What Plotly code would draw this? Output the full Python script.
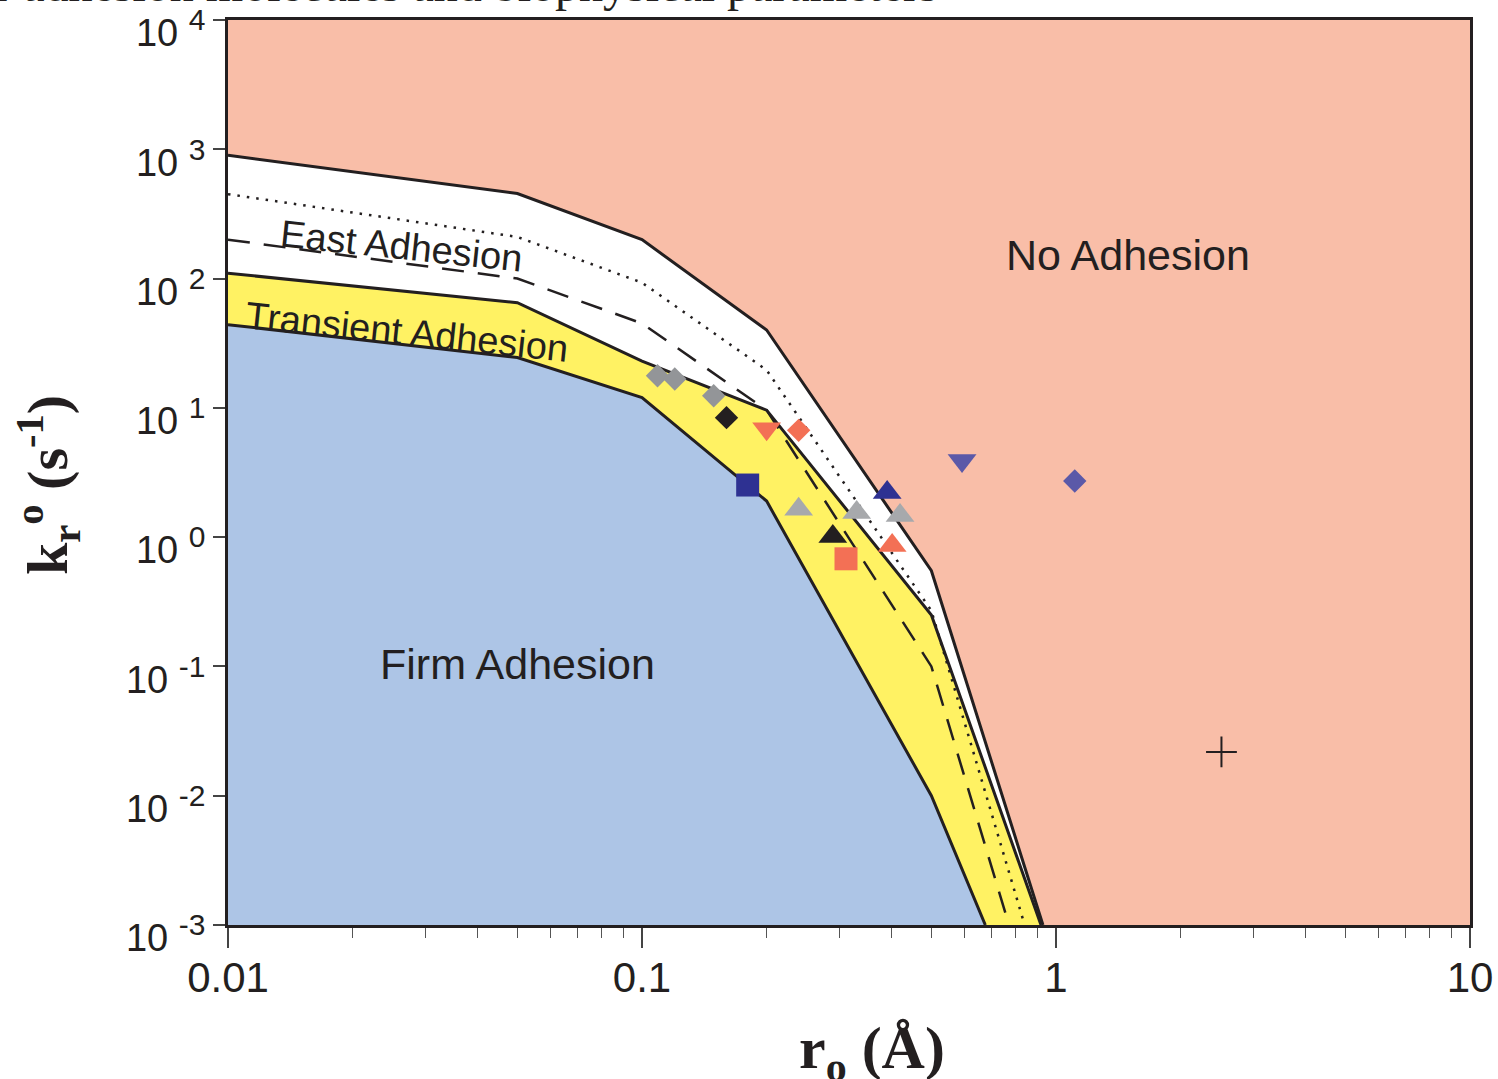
import plotly.graph_objects as go

# ---------------- data ----------------
r_break = [0.01, 0.05, 0.1, 0.2, 0.5]

no_adh_k = [900, 455, 200, 40, 0.55]
no_adh_r_end = 0.93
dotted_k = [450, 210, 93, 19.6, 0.27]
dotted_r_end = 0.84
dashed_k = [200, 100, 45, 9.6, 0.1]
dashed_r_end = 0.77
transient_k = [110, 65, 23, 9.6, 0.25]
transient_r_end = 0.92
firm_k = [44, 24.5, 12, 1.9, 0.01]
firm_r_end = 0.675

k_floor = 1e-3

gray_diamond_r = [0.109, 0.12, 0.149]
gray_diamond_k = [17.7, 16.7, 12.4]
black_diamond_r = [0.160]
black_diamond_k = [8.4]
orange_down_r = [0.2]
orange_down_k = [6.9]
orange_diamond_r = [0.239]
orange_diamond_k = [6.7]
navy_square_r = [0.180]
navy_square_k = [2.53]
gray_triangle_r = [0.239, 0.330, 0.42]
gray_triangle_k = [1.64, 1.55, 1.47]
black_triangle_r = [0.289]
black_triangle_k = [1.01]
orange_square_r = [0.311]
orange_square_k = [0.68]
navy_triangle_r = [0.391]
navy_triangle_k = [2.21]
orange_triangle_r = [0.402]
orange_triangle_k = [0.86]
slate_down_r = [0.593]
slate_down_k = [3.92]
slate_diamond_r = [1.11]
slate_diamond_k = [2.72]
cross_r = [2.51]
cross_k = [0.0218]

x_tickvals = [0.01, 0.1, 1, 10]
x_ticktext = ["0.01", "0.1", "1", "10"]
y_tickvals = [1e-3, 1e-2, 1e-1, 1, 10, 100, 1000, 10000]
y_exponents = ["-3", "-2", "-1", "0", "1", "2", "3", "4"]
x_minor = [m * d for d in (0.01, 0.1, 1) for m in range(2, 10)]

# ---------------- colours ----------------
SALMON = "#F9BEA8"
YELLOW = "#FFF263"
BLUE = "#ADC5E6"
INK = "#231F20"
GRAY_D = "#939598"
GRAY_T = "#A7A9AC"
ORANGE = "#F37055"
NAVY = "#2E3192"
SLATE = "#5B59A8"

fig = go.Figure()


def boundary(k_vals, r_end):
    return r_break + [r_end], k_vals + [k_floor]


def region(k_vals, r_end, color):
    xs, ys = boundary(k_vals, r_end)
    fig.add_trace(go.Scatter(x=xs + [r_break[0]], y=ys + [k_floor], mode="lines",
                             fill="toself", fillcolor=color, line=dict(width=0),
                             hoverinfo="skip", showlegend=False))


def line(k_vals, r_end, dash, width=3):
    xs, ys = boundary(k_vals, r_end)
    fig.add_trace(go.Scatter(x=xs, y=ys, mode="lines",
                             line=dict(color=INK, width=width, dash=dash),
                             hoverinfo="skip", showlegend=False))


region(no_adh_k, no_adh_r_end, "white")
region(transient_k, transient_r_end, YELLOW)
region(firm_k, firm_r_end, BLUE)

line(dotted_k, dotted_r_end, "2.5px,7px", 2.5)
line(dashed_k, dashed_r_end, "22px,14px", 2.5)
line(no_adh_k, no_adh_r_end, "solid")
line(transient_k, transient_r_end, "solid")
line(firm_k, firm_r_end, "solid")


def pts(xs, ys, symbol, color, size):
    fig.add_trace(go.Scatter(x=xs, y=ys, mode="markers",
                             marker=dict(symbol=symbol, color=color, size=size,
                                         line=dict(width=0)),
                             showlegend=False))


pts(gray_diamond_r, gray_diamond_k, "diamond", GRAY_D, 18)
pts(black_diamond_r, black_diamond_k, "diamond", INK, 18)
pts(orange_down_r, orange_down_k, "triangle-down", ORANGE, 25)
pts(orange_diamond_r, orange_diamond_k, "diamond", ORANGE, 18)
pts(navy_square_r, navy_square_k, "square", NAVY, 23)
pts(gray_triangle_r, gray_triangle_k, "triangle-up", GRAY_T, 25)
pts(black_triangle_r, black_triangle_k, "triangle-up", INK, 25)
pts(orange_square_r, orange_square_k, "square", ORANGE, 23)
pts(navy_triangle_r, navy_triangle_k, "triangle-up", NAVY, 25)
pts(orange_triangle_r, orange_triangle_k, "triangle-up", ORANGE, 25)
pts(slate_down_r, slate_down_k, "triangle-down", SLATE, 25)
pts(slate_diamond_r, slate_diamond_k, "diamond", SLATE, 18)
fig.add_trace(go.Scatter(x=cross_r, y=cross_k, mode="markers",
                         marker=dict(symbol="cross-thin", size=22,
                                     line=dict(width=2, color=INK)),
                         showlegend=False))

SANS = "Liberation Sans, Arial, sans-serif"
SERIF = "Liberation Serif, Times New Roman, serif"

PL, PR, PT, PB = 228, 1470, 20, 925


def px(x):
    return (x - PL) / (PR - PL)


def py(y):
    return (PB - y) / (PB - PT)


def label(xp, yp, text, font, angle=0, xa="center", ya="middle"):
    return dict(x=px(xp), y=py(yp), xref="paper", yref="paper", text=text,
                font=font, showarrow=False, textangle=angle,
                xanchor=xa, yanchor=ya)


annotations = [
    label(1128, 255, "No Adhesion", dict(family=SANS, size=43, color=INK)),
    label(517, 664, "Firm Adhesion", dict(family=SANS, size=43, color=INK)),
    label(401, 246, "East Adhesion", dict(family=SANS, size=38, color=INK), 6),
    label(407, 332, "Transient Adhesion", dict(family=SANS, size=38, color=INK), 6),
    label(872, 1052, "<b>r<sub>o</sub> (Å)</b>", dict(family=SERIF, size=60, color=INK)),
    label(48, 485, "<b>k<sub>r</sub><sup>o</sup> (s<sup>-1</sup>)</b>",
          dict(family=SERIF, size=58, color=INK), -90),
    label(940, 13, "State diagram for adhesion molecules and biophysical parameters",
          dict(family=SERIF, size=48, color=INK), 0, "right", "bottom"),
]

y_ticktext = ["10 <sup><span style='font-size:30px'>%s</span></sup>" % e for e in y_exponents]

fig.update_layout(
    width=1498, height=1079,
    margin=dict(l=PL, r=1498 - PR, t=PT, b=1079 - PB, autoexpand=False),
    paper_bgcolor="white",
    plot_bgcolor=SALMON,
    annotations=annotations,
    showlegend=False,
)

fig.update_xaxes(
    type="log", range=[-2, 1],
    tickmode="array", tickvals=x_tickvals, ticktext=x_ticktext,
    ticks="outside", ticklen=20, tickwidth=1.5, tickcolor="#444",
    tickfont=dict(family=SANS, size=42, color=INK),
    ticklabeloverflow="allow", automargin=False, ticklabelstandoff=-6,
    showgrid=False, zeroline=False,
    showline=True, linecolor=INK, linewidth=3, mirror=True,
    minor=dict(tickmode="array", tickvals=x_minor, ticks="outside",
               ticklen=10, tickwidth=1.2, tickcolor="#555", showgrid=False),
)
fig.update_yaxes(
    type="log", range=[-3, 4],
    tickmode="array", tickvals=y_tickvals, ticktext=y_ticktext,
    ticks="outside", ticklen=12, tickwidth=1.5, tickcolor="#444",
    tickfont=dict(family=SANS, size=38, color=INK),
    ticklabeloverflow="allow", automargin=False, ticklabelshift=13,
    showgrid=False, zeroline=False,
    showline=True, linecolor=INK, linewidth=3, mirror=True,
)

fig.write_html("out.html")
